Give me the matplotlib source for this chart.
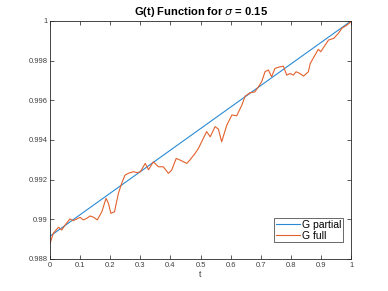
import matplotlib
matplotlib.use("Agg")
import matplotlib.pyplot as plt
from matplotlib.ticker import FuncFormatter

plt.rcParams['font.family'] = ['Liberation Sans', 'DejaVu Sans']

t_partial = [0.0, 1.0]
g_partial = [0.98915, 1.0]

t_full = [0.0, 0.011, 0.028, 0.039, 0.05, 0.066, 0.077, 0.1, 0.11, 0.122, 0.133, 0.145,
          0.157, 0.172, 0.186, 0.194, 0.202, 0.214, 0.227, 0.238, 0.249, 0.26, 0.277,
          0.29, 0.3, 0.316, 0.327, 0.343, 0.36, 0.376, 0.393, 0.404, 0.419, 0.43, 0.454,
          0.465, 0.482, 0.493, 0.509, 0.52, 0.532, 0.548, 0.559, 0.57, 0.587, 0.604,
          0.62, 0.637, 0.648, 0.664, 0.68, 0.692, 0.703, 0.714, 0.725, 0.736, 0.747,
          0.764, 0.775, 0.786, 0.797, 0.808, 0.817, 0.83, 0.842, 0.858, 0.864, 0.88,
          0.891, 0.899, 0.914, 0.925, 0.942, 0.958, 0.969, 0.985, 1.0]
g_full = [0.98879, 0.9893, 0.9896, 0.98946, 0.98971, 0.99002, 0.98993, 0.9901, 0.98997,
          0.99005, 0.99017, 0.9901, 0.98997, 0.99038, 0.99106, 0.9908, 0.9903, 0.99038,
          0.99131, 0.99182, 0.99223, 0.99232, 0.9924, 0.99235, 0.9924, 0.99282, 0.9925,
          0.9929, 0.99265, 0.99265, 0.99232, 0.99248, 0.99307, 0.993, 0.99282, 0.993,
          0.99333, 0.99358, 0.99408, 0.99442, 0.99416, 0.99467, 0.99455, 0.99391, 0.99475,
          0.99526, 0.99522, 0.99576, 0.99621, 0.99638, 0.99642, 0.99668, 0.99694, 0.99744,
          0.99753, 0.99719, 0.99761, 0.99769, 0.99772, 0.99727, 0.99735, 0.99727, 0.99744,
          0.99735, 0.99722, 0.99744, 0.99785, 0.99828, 0.99857, 0.99845, 0.99879, 0.99904,
          0.99912, 0.99938, 0.99963, 0.99978, 0.99996]

x_ticks = [0, 0.1, 0.2, 0.3, 0.4, 0.5, 0.6, 0.7, 0.8, 0.9, 1.0]
y_ticks = [0.988, 0.99, 0.992, 0.994, 0.996, 0.998, 1.0]

fig = plt.figure(figsize=(3.88, 2.91), dpi=100)
ax = fig.add_axes([0.129, 0.110, 0.776, 0.818])

ax.plot(t_partial, g_partial, color='#2a8ad4', lw=0.8, label='G partial')
ax.plot(t_full, g_full, color='#e3612c', lw=0.8, label='G full')

ax.set_xlim(0, 1)
ax.set_ylim(0.988, 1.0)
ax.set_xticks(x_ticks)
ax.set_yticks(y_ticks)
fmt = FuncFormatter(lambda v, p: ('%g' % round(v, 4)))
ax.xaxis.set_major_formatter(fmt)
ax.yaxis.set_major_formatter(fmt)
ax.tick_params(direction='in', length=3, width=0.6, labelsize=5.5, colors='#404040',
               top=True, right=True, pad=2)
for s in ax.spines.values():
    s.set_linewidth(0.6)
    s.set_color('#262626')

ax.set_xlabel('t', fontsize=6.5, color='#404040', labelpad=1)
ax.set_title(r'G(t) Function for $\sigma$ = 0.15', fontsize=8, fontweight='bold', pad=4)

leg = ax.legend(loc='lower right', bbox_to_anchor=(0.973, 0.071), fontsize=7.5,
                frameon=True, fancybox=False, edgecolor='#262626', borderpad=0.15,
                handlelength=2.3, handletextpad=0.2, labelspacing=0.05, borderaxespad=0)
leg.get_frame().set_linewidth(0.6)

fig.savefig('out.png', dpi=100)
